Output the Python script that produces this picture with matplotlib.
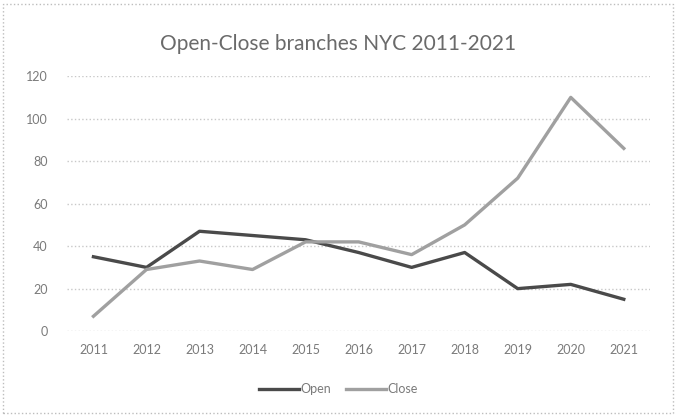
import matplotlib.pyplot as plt
from matplotlib.patches import Rectangle

years = ['2011', '2012', '2013', '2014', '2015', '2016',
         '2017', '2018', '2019', '2020', '2021']
open_branches = [35, 30, 47, 45, 43, 37, 30, 37, 20, 22, 15]
close_branches = [7, 29, 33, 29, 42, 42, 36, 50, 72, 110, 86]

plt.rcParams['font.family'] = ['Lato', 'DejaVu Sans']

fig = plt.figure(figsize=(6.76, 4.16), dpi=100)
ax = fig.add_axes([0.099, 0.204, 0.863, 0.613])

x = range(len(years))
ax.plot(x, open_branches, color='#4a4a4a', lw=2.4, label='Open')
ax.plot(x, close_branches, color='#a0a0a0', lw=2.4, label='Close')

ax.set_xlim(-0.5, len(years) - 0.5)
ax.set_ylim(0, 120)
ax.set_yticks(range(0, 121, 20))
ax.set_xticks(list(x))
ax.set_xticklabels(years)
ax.grid(axis='y', color='#c8c8c8', linestyle=':', lw=1)
ax.set_axisbelow(True)
for s in ax.spines.values():
    s.set_visible(False)
ax.tick_params(length=0, labelsize=9, colors='#7a7a7a', pad=9)
ax.tick_params(axis='y', pad=14)

fig.text(0.5, 0.895, 'Open-Close branches NYC 2011-2021', ha='center', va='center',
         fontsize=15, color='#6a6a6a')

fig.legend(loc='center', bbox_to_anchor=(0.5, 0.065), ncol=2, frameon=False,
           fontsize=9, labelcolor='#7a7a7a', handlelength=3.2, handletextpad=0.1,
           columnspacing=1.2)

fig.patches.append(Rectangle((0.004, 0.007), 0.992, 0.983, transform=fig.transFigure,
                             fill=False, edgecolor='#bdbdbd', linestyle=':', lw=1))

fig.savefig('out.png', dpi=100, facecolor='white')
